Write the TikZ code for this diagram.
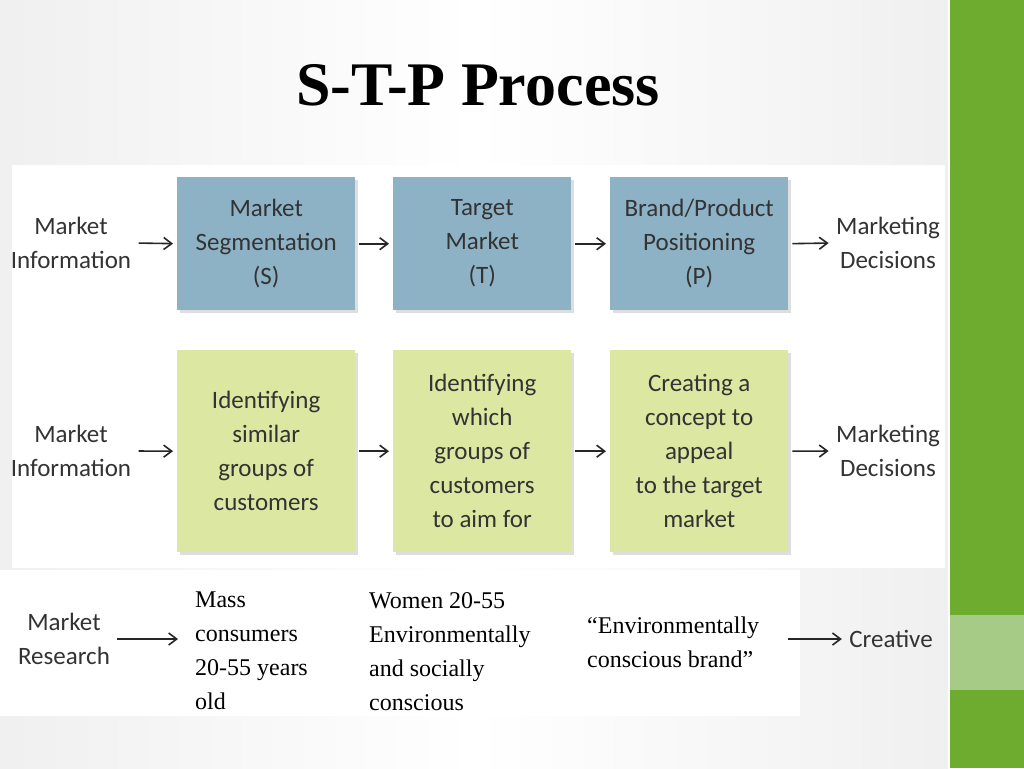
\documentclass[tikz,border=0pt]{standalone}
\usepackage{fontspec}
\setmainfont{Liberation Serif}
\newfontfamily\calfnt{Carlito}
\usetikzlibrary{arrows.meta,shadows}
\definecolor{bluebox}{HTML}{8DB2C6}
\definecolor{greenbox}{HTML}{DCE7A2}
\definecolor{barg}{HTML}{6EAC2F}
\definecolor{barl}{HTML}{A6CB86}
\definecolor{txt}{HTML}{333333}
\tikzset{
 box/.style={minimum width=178pt,anchor=north west,inner sep=0pt,align=center,text=txt,font=\calfnt\fontsize{25}{34}\selectfont,
   drop shadow={shadow xshift=3pt,shadow yshift=-3pt,fill=gray!50}},
 lab/.style={align=center,text=txt,font=\calfnt\fontsize{25}{34}\selectfont},
 tm/.style={align=left,anchor=north west,font=\fontsize{24}{34}\selectfont,inner sep=0pt},
 arr/.style={-{Straight Barb[length=8pt,width=12pt]},line width=1.6pt,black!85,shorten >=4pt,shorten <=4pt}
}
\begin{document}
\begin{tikzpicture}[x=1pt,y=-1pt]
\useasboundingbox (0,0) rectangle (1024,768);
\shade[left color=gray!12,right color=gray!12,middle color=white] (0,0) rectangle (948,768);
\fill[white] (12,165) rectangle (945,568);
\fill[white] (0,570) rectangle (800,716);
\fill[barg] (950,0) rectangle (1024,768);
\fill[barl] (950,615) rectangle (1024,690);
\node[font=\bfseries\fontsize{62}{70}\selectfont] (title) at (478,85) {S-T-P Process};
% row 1
\node[box,fill=bluebox,minimum height=133pt] (s) at (177,177) {Market\\Segmentation\\(S)};
\node[box,fill=bluebox,minimum height=133pt] (t) at (393,177) {Target\\Market\\(T)};
\node[box,fill=bluebox,minimum height=133pt] (p) at (610,177) {Brand/Product\\Positioning\\(P)};
\node[lab] (mi1) at (71,243) {Market\\Information};
\node[lab] (md1) at (888,243) {Marketing\\Decisions};
\draw[arr] (mi1.east) -- (s.west);
\draw[arr] (s.east) -- (t.west);
\draw[arr] (t.east) -- (p.west);
\draw[arr] (p.east) -- (md1.west);
% row 2
\node[box,fill=greenbox,minimum height=202pt] (s2) at (177,350) {Identifying\\similar\\groups of\\customers};
\node[box,fill=greenbox,minimum height=202pt] (t2) at (393,350) {Identifying\\which\\groups of\\customers\\to aim for};
\node[box,fill=greenbox,minimum height=202pt] (p2) at (610,350) {Creating a\\concept to\\appeal\\to the target\\market};
\node[lab] (mi2) at (71,451) {Market\\Information};
\node[lab] (md2) at (888,451) {Marketing\\Decisions};
\draw[arr] (mi2.east) -- (s2.west);
\draw[arr] (s2.east) -- (t2.west);
\draw[arr] (t2.east) -- (p2.west);
\draw[arr] (p2.east) -- (md2.west);
% row 3
\node[lab] (mr) at (64,639) {Market\\Research};
\node[tm] (b1) at (195,592) {Mass\\consumers\\20-55 years\\old};
\node[tm] (b2) at (369,592) {Women 20-55\\Environmentally\\and socially\\conscious};
\node[tm] (b3) at (587,617) {“Environmentally\\conscious brand”};
\node[lab] (cr) at (891,639) {Creative};
\coordinate (a1) at (182,639);
\draw[arr] (mr.east) -- (a1);
\coordinate (a2) at (784,639);
\draw[arr] (a2) -- (cr.west);
\end{tikzpicture}
\end{document}
